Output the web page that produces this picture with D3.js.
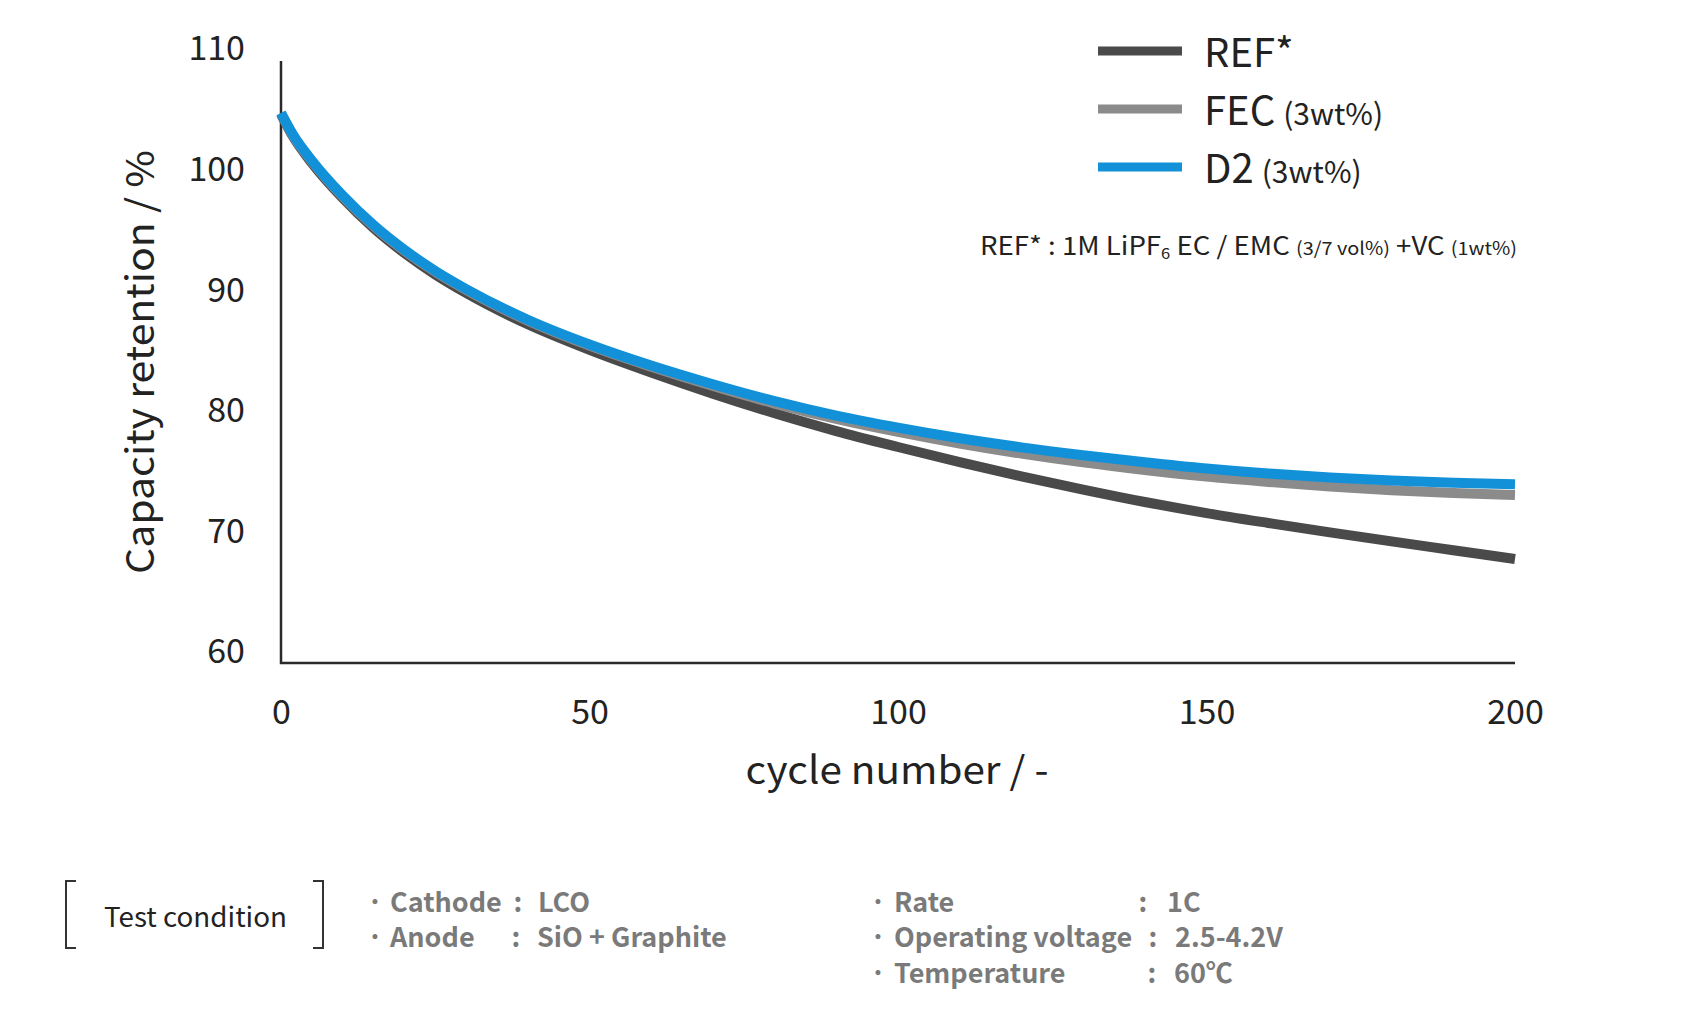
<!DOCTYPE html>
<html>
<head>
<meta charset="utf-8">
<script src="https://cdn.jsdelivr.net/npm/d3@7"></script>
<style>
  html, body { margin: 0; padding: 0; background: #fff; }
  text { font-family: "Noto Sans CJK JP", "Noto Sans", sans-serif; }
</style>
</head>
<body>
<div id="chart"></div>
<script>
const cycles = [0, 2, 5, 10, 15, 20, 25, 30, 40, 50, 60, 70, 80, 90, 100, 110, 120, 130, 140, 150, 160, 170, 180, 190, 200];

// capacity retention (%)
const refValues = [104.6, 102.7, 100.55, 97.63, 95.15, 93.08, 91.3, 89.77, 87.17, 85.05, 83.17, 81.42, 79.8, 78.32, 77.0, 75.74, 74.57, 73.47, 72.44, 71.52, 70.7, 69.92, 69.17, 68.44, 67.71];
const fecValues = [104.65, 102.78, 100.68, 97.77, 95.32, 93.27, 91.52, 90.02, 87.47, 85.4, 83.65, 82.05, 80.6, 79.33, 78.25, 77.29, 76.45, 75.72, 75.09, 74.54, 74.1, 73.73, 73.42, 73.19, 73.01];
const d2Values = [104.7, 102.85, 100.75, 97.85, 95.4, 93.35, 91.6, 90.1, 87.55, 85.5, 83.75, 82.2, 80.8, 79.6, 78.6, 77.72, 76.97, 76.32, 75.74, 75.22, 74.8, 74.47, 74.22, 74.04, 73.91];

const seriesNames = ["REF*", "FEC", "D2"];
const seriesNotes = ["", "(3wt%)", "(3wt%)"];
const seriesColors = ["#4a4a4a", "#8b8b8b", "#1391d8"];

const xTicks = [0, 50, 100, 150, 200];
const yTicks = [60, 70, 80, 90, 100, 110];

const conditionsLeft = [["Cathode", "LCO"], ["Anode", "SiO + Graphite"]];
const conditionsRight = [["Rate", "1C"], ["Operating voltage", "2.5-4.2V"], ["Temperature", "60℃"]];

const width = 1682, height = 1009;
const plot = { left: 281, right: 1515, top: 61, bottom: 663 };

const svg = d3.select("#chart")
    .append("svg")
    .attr("width", width)
    .attr("height", height)
    .style("display", "block");

svg.append("rect").attr("width", width).attr("height", height).attr("fill", "#fff");

const x = d3.scaleLinear().domain([0, 200]).range([plot.left, plot.right]);
const y = d3.scaleLinear().domain([60, 110]).range([652, 49]);

// axes: labels only, lines drawn separately
const xAxis = svg.append("g")
    .attr("transform", `translate(0,${plot.bottom})`)
    .call(d3.axisBottom(x).tickValues(xTicks).tickSize(0).tickPadding(37).tickFormat(d3.format("d")));
const yAxis = svg.append("g")
    .attr("transform", `translate(${plot.left},0)`)
    .call(d3.axisLeft(y).tickValues(yTicks).tickSize(0).tickPadding(36).tickFormat(d3.format("d")));

[xAxis, yAxis].forEach(a => {
  a.select(".domain").remove();
  a.selectAll("text")
      .style("font-family", '"Noto Sans CJK JP", "Noto Sans", sans-serif')
      .style("font-size", "34px")
      .attr("fill", "#222");
});

svg.append("path")
    .attr("d", `M${plot.left},${plot.top}V${plot.bottom}H${plot.right}`)
    .attr("fill", "none")
    .attr("stroke", "#2a2a2a")
    .attr("stroke-width", 2.5);

// axis titles
svg.append("text")
    .attr("transform", "translate(154,362) rotate(-90)")
    .attr("text-anchor", "middle")
    .attr("textLength", 424)
    .attr("lengthAdjust", "spacingAndGlyphs")
    .style("font-size", "38px")
    .attr("fill", "#222")
    .text("Capacity retention / %");

svg.append("text")
    .attr("x", 897)
    .attr("y", 784)
    .attr("text-anchor", "middle")
    .attr("textLength", 303)
    .attr("lengthAdjust", "spacingAndGlyphs")
    .style("font-size", "38px")
    .attr("fill", "#222")
    .text("cycle number / -");

// curves
const series = [refValues, fecValues, d2Values];
const line = d3.line()
    .x((d, i) => x(cycles[i]))
    .y(d => y(d))
    .curve(d3.curveMonotoneX);

svg.append("g")
    .selectAll("path")
    .data(series)
    .enter().append("path")
    .attr("d", line)
    .attr("fill", "none")
    .attr("stroke", (d, i) => seriesColors[i])
    .attr("stroke-width", 10)
    .attr("stroke-linecap", "butt");

// legend
const legend = svg.append("g").attr("transform", "translate(1098,51)");
const item = legend.selectAll("g")
    .data(seriesNames)
    .enter().append("g")
    .attr("transform", (d, i) => `translate(0,${i * 58})`);

item.append("line")
    .attr("x1", 0).attr("x2", 84)
    .attr("stroke", (d, i) => seriesColors[i])
    .attr("stroke-width", 9);

const itemText = item.append("text")
    .attr("x", 106)
    .attr("y", 16)
    .attr("fill", "#222");
itemText.append("tspan")
    .style("font-size", "40px")
    .text(d => d);
itemText.append("tspan")
    .attr("dx", 8)
    .style("font-size", "30px")
    .text((d, i) => seriesNotes[i]);

// electrolyte note
const note = svg.append("text")
    .attr("x", 980)
    .attr("y", 255)
    .attr("textLength", 537)
    .attr("lengthAdjust", "spacingAndGlyphs")
    .attr("fill", "#222");
note.append("tspan").style("font-size", "25px").text("REF* : 1M LiPF");
note.append("tspan").style("font-size", "15px").attr("dy", 4).text("6");
note.append("tspan").style("font-size", "25px").attr("dy", -4).text(" EC / EMC ");
note.append("tspan").style("font-size", "18px").text("(3/7 vol%)");
note.append("tspan").style("font-size", "25px").text(" +VC ");
note.append("tspan").style("font-size", "18px").text("(1wt%)");

// test condition box
svg.append("path")
    .attr("d", "M76,881H66V948H76M313,881H323V948H313")
    .attr("fill", "none")
    .attr("stroke", "#333")
    .attr("stroke-width", 2);

svg.append("text")
    .attr("x", 104)
    .attr("y", 927)
    .attr("textLength", 183)
    .attr("lengthAdjust", "spacingAndGlyphs")
    .style("font-size", "27px")
    .attr("fill", "#222")
    .text("Test condition");

function conditionColumn(rows, bulletX, labelX, colonX, valueX) {
  const g = svg.append("g")
      .style("font-size", "27px")
      .style("font-weight", "bold")
      .attr("fill", "#7a7a7a");
  const row = g.selectAll("g")
      .data(rows)
      .enter().append("g")
      .attr("transform", (d, i) => `translate(0,${[912, 947, 983][i]})`);
  row.append("text").attr("x", bulletX).attr("text-anchor", "middle").text("·");
  row.append("text").attr("x", labelX).text(d => d[0]);
  row.append("text").attr("x", (d, i) => colonX[i]).attr("text-anchor", "middle").text(":");
  row.append("text").attr("x", (d, i) => valueX[i]).text(d => d[1]);
}

conditionColumn(conditionsLeft, 375, 390, [518, 516], [538, 537]);
conditionColumn(conditionsRight, 878, 894, [1143, 1153, 1152], [1167, 1175, 1174]);
</script>
</body>
</html>
